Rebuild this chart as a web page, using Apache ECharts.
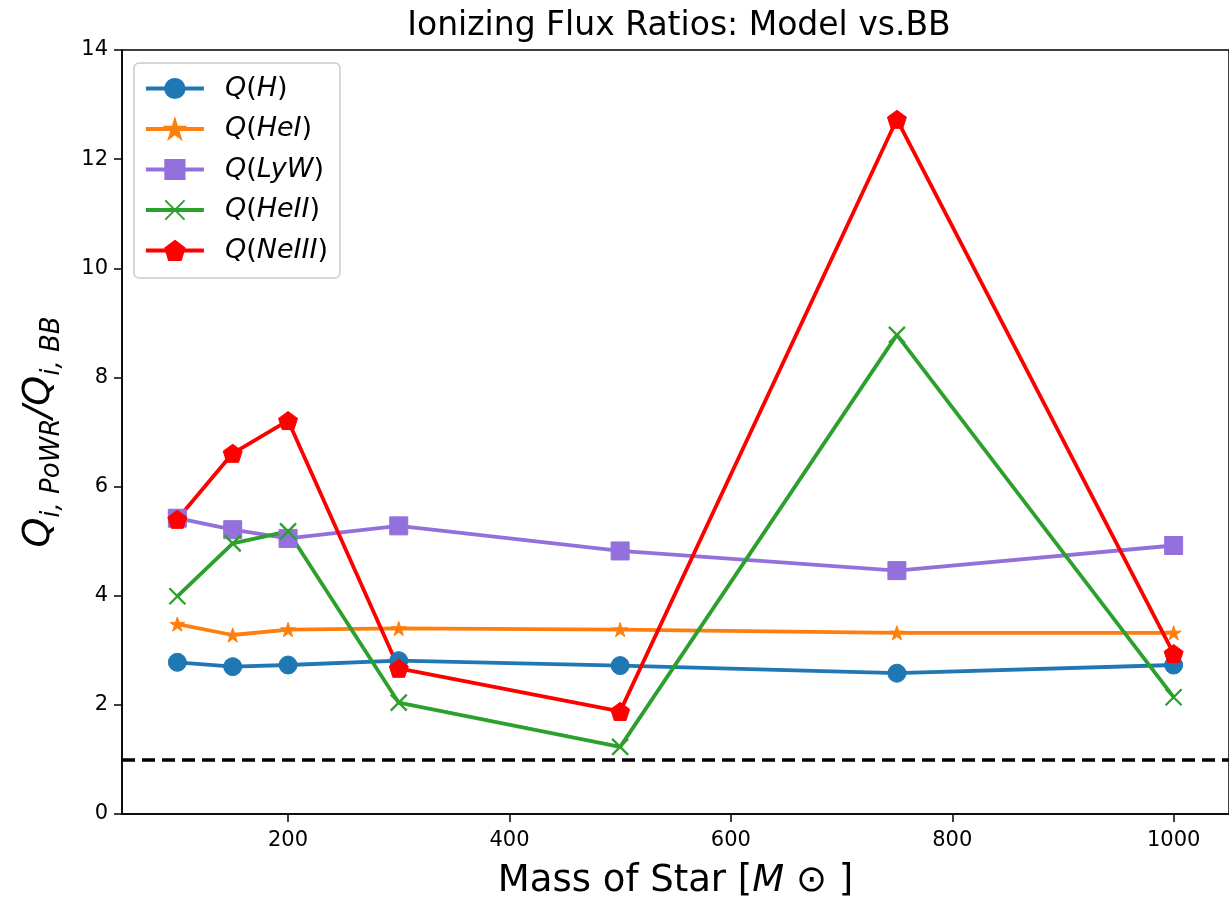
<!DOCTYPE html>
<html>
<head>
<meta charset="utf-8">
<title>Ionizing Flux Ratios</title>
<script src="https://cdn.jsdelivr.net/npm/echarts@6/dist/echarts.min.js"></script>
<style>
  html, body { margin: 0; padding: 0; background: #ffffff; }
  #chart { width: 1229px; height: 906px; }
</style>
</head>
<body>
<div id="chart"></div>
<script>
// Stellar masses (solar masses) of the models
const masses = [100, 150, 200, 300, 500, 750, 1000];

// Ratio of ionizing photon rates, PoWR model / blackbody
const qH     = [2.78, 2.70, 2.73, 2.81, 2.72, 2.58, 2.73];
const qHeI   = [3.48, 3.28, 3.38, 3.40, 3.38, 3.32, 3.32];
const qLyW   = [5.42, 5.21, 5.05, 5.28, 4.82, 4.46, 4.92];
const qHeII  = [3.99, 4.96, 5.18, 2.04, 1.23, 8.78, 2.14];
const qNeIII = [5.40, 6.61, 7.21, 2.67, 1.88, 12.73, 2.94];

// Reference level (ratio of one)
const unityLevel = 1;

// Axis ticks
const xTicks = [200, 400, 600, 800, 1000];
const xRange = [50, 1050];
const yRange = [0, 14];
const yStep = 2;

const FONT = 'DejaVu Sans';

const STAR = 'path://M50,0 L61.2,34.5 L97.6,34.5 L68.2,55.9 L79.4,90.5 L50,69.1 L20.6,90.5 L31.8,55.9 L2.4,34.5 L38.8,34.5 Z';
const PENTAGON = 'path://M50,0 L97.6,34.5 L79.4,90.5 L20.6,90.5 L2.4,34.5 Z';
const CROSS = 'path://M0,0 L10,10 M10,0 L0,10';

const seriesDefs = [
  { name: 'Q(H)',     values: qH,     color: '#1f77b4', symbol: 'circle', size: 18 },
  { name: 'Q(HeI)',   values: qHeI,   color: '#ff7f0e', symbol: STAR,     size: 15 },
  { name: 'Q(LyW)',   values: qLyW,   color: '#9370db', symbol: 'rect',   size: 18 },
  { name: 'Q(HeII)',  values: qHeII,  color: '#2ca02c', symbol: CROSS,    size: 16, stroke: true },
  { name: 'Q(NeIII)', values: qNeIII, color: '#ff0000', symbol: PENTAGON, size: 19 }
];

const series = seriesDefs.map(d => ({
  name: d.name,
  type: 'line',
  data: masses.map((m, i) => [m, d.values[i]]),
  symbol: d.symbol,
  symbolSize: d.size,
  symbolKeepAspect: true,
  showAllSymbol: true,
  lineStyle: { color: d.color, width: 3.8 },
  itemStyle: d.stroke
    ? { color: 'rgba(0,0,0,0)', borderColor: d.color, borderWidth: 2.3 }
    : { color: d.color, borderColor: d.color, borderWidth: 1 },
  emphasis: { disabled: true }
}));

// Dashed horizontal line at unity
series.unshift({
  name: 'unity',
  type: 'line',
  data: [],
  markLine: {
    silent: true,
    symbol: 'none',
    label: { show: false },
    lineStyle: { color: '#000000', width: 3.5, type: [13, 7] },
    data: [{ yAxis: unityLevel }]
  }
});

// Legend names in math italic with upright parentheses
function mathName(name) {
  const inner = name.slice(2, -1);
  return '{it|Q}{up|(}{it|' + inner + '}{up|)}';
}

const chart = echarts.init(document.getElementById('chart'), null, { renderer: 'canvas' });

chart.setOption({
  animation: false,
  backgroundColor: '#ffffff',
  title: {
    text: 'Ionizing Flux Ratios: Model vs.BB',
    left: 674,
    textAlign: 'center',
    top: 5,
    textStyle: { fontFamily: FONT, fontSize: 33, fontWeight: 'normal', color: '#000000' }
  },
  grid: {
    left: 122,
    top: 50,
    width: 1108,
    bottom: 92,
    show: true,
    borderColor: '#000000',
    borderWidth: 1.5,
    backgroundColor: 'transparent',
    containLabel: false
  },
  legend: {
    data: seriesDefs.map(d => d.name),
    orient: 'vertical',
    left: 134,
    top: 63,
    itemWidth: 58,
    itemHeight: 24,
    itemGap: 13.5,
    padding: [12, 12, 14, 10],
    backgroundColor: 'rgba(255,255,255,0.8)',
    borderColor: '#cccccc',
    borderWidth: 1.5,
    borderRadius: 5,
    lineStyle: { width: 3.8 },
    formatter: mathName,
    textStyle: {
      padding: [0, 0, 0, 16],
      rich: {
        it: { fontFamily: FONT, fontStyle: 'italic', fontSize: 27, lineHeight: 24, color: '#000000' },
        up: { fontFamily: FONT, fontSize: 27, lineHeight: 24, color: '#000000' }
      }
    }
  },
  xAxis: {
    type: 'value',
    min: xRange[0],
    max: xRange[1],
    name: '{n|Mass of Star [}{it|M}{n| ⊙ ]}',
    nameLocation: 'middle',
    nameGap: 49,
    nameTextStyle: {
      rich: {
        n: { fontFamily: FONT, fontSize: 37, color: '#000000' },
        it: { fontFamily: FONT, fontSize: 37, fontStyle: 'italic', color: '#000000' }
      }
    },
    splitLine: { show: false },
    axisLine: { onZero: false, lineStyle: { color: '#000000', width: 1.5 } },
    axisTick: { show: true, length: 8, customValues: xTicks, lineStyle: { color: '#000000', width: 1.5 } },
    axisLabel: {
      customValues: xTicks,
      formatter: v => String(v),
      margin: 16, fontFamily: FONT, fontSize: 21, color: '#000000'
    }
  },
  yAxis: {
    type: 'value',
    min: yRange[0],
    max: yRange[1],
    interval: yStep,
    name: '{q|Q}{s|i, PoWR}{q|/Q}{s|i, BB}',
    nameLocation: 'middle',
    nameRotate: 90,
    nameGap: 64,
    nameTextStyle: {
      rich: {
        q: { fontFamily: FONT, fontStyle: 'italic', fontSize: 38, lineHeight: 38, verticalAlign: 'top', color: '#000000' },
        s: { fontFamily: FONT, fontStyle: 'italic', fontSize: 26, lineHeight: 26, verticalAlign: 'top', padding: [19, 0, 0, 0], color: '#000000' }
      }
    },
    splitLine: { show: false },
    axisLine: { onZero: false, lineStyle: { color: '#000000', width: 1.5 } },
    axisTick: { show: true, length: 8, lineStyle: { color: '#000000', width: 1.5 } },
    axisLabel: { margin: 14, fontFamily: FONT, fontSize: 21, color: '#000000' }
  },
  series: series
});
</script>
</body>
</html>
